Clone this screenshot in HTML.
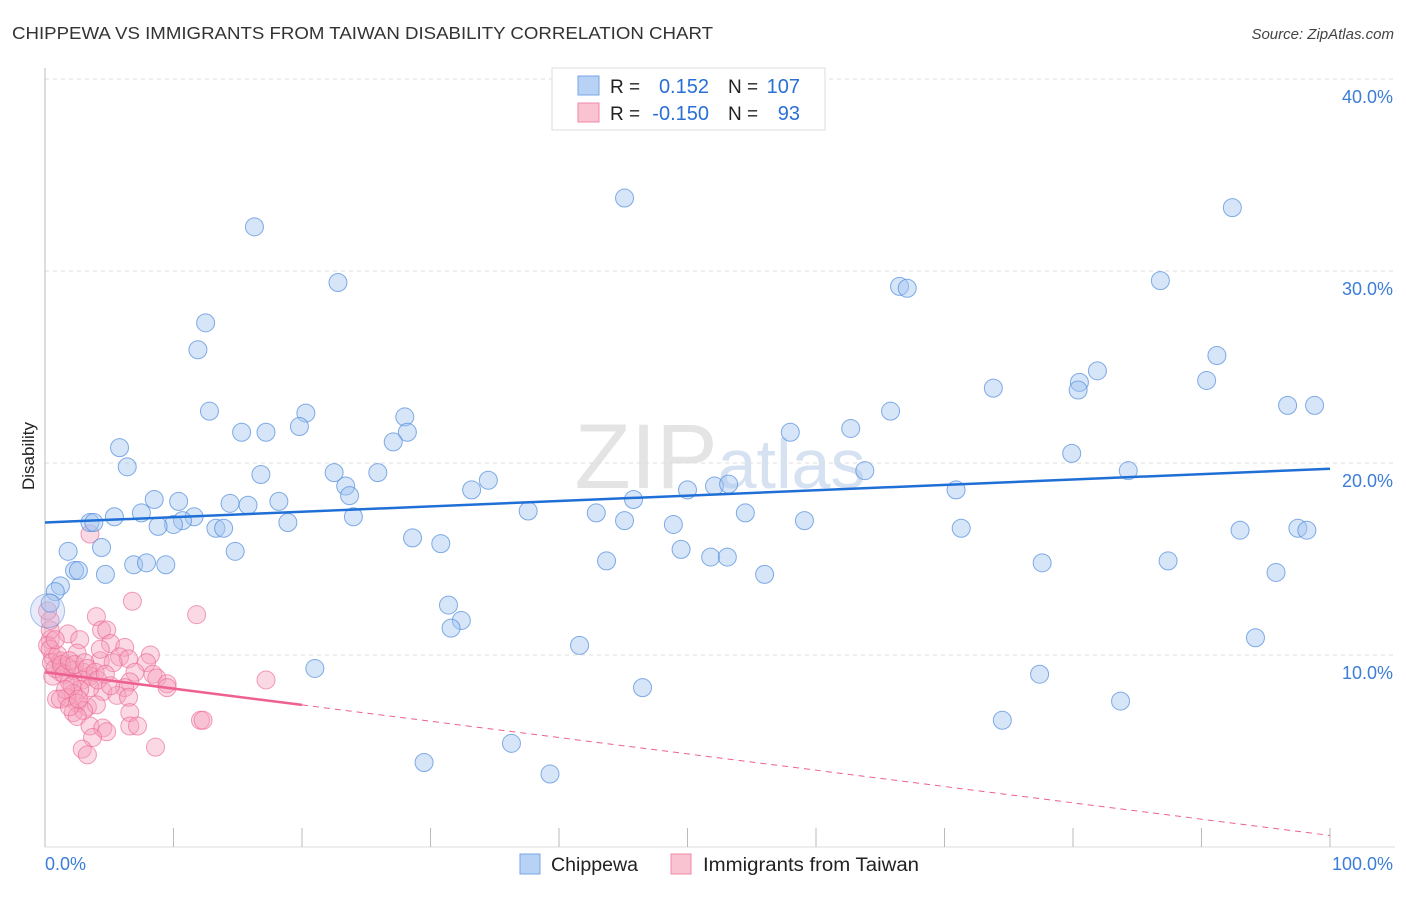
<!DOCTYPE html>
<html><head><meta charset="utf-8"><style>
body{margin:0;background:#fff;font-family:"Liberation Sans",sans-serif;}
svg text{font-family:"Liberation Sans",sans-serif;}
</style></head><body>
<svg id="chart" width="1406" height="892" viewBox="0 0 1406 892" xmlns="http://www.w3.org/2000/svg">
<text x="12" y="39" font-size="17.5" fill="#333" textLength="701" lengthAdjust="spacingAndGlyphs">CHIPPEWA VS IMMIGRANTS FROM TAIWAN DISABILITY CORRELATION CHART</text>
<text x="1394" y="39" font-size="15" fill="#444" font-style="italic" text-anchor="end">Source: ZipAtlas.com</text>
<text x="720" y="488" font-size="92" fill="#e4e4e4" text-anchor="middle" font-family="Liberation Serif">ZIP<tspan fill="#d6e2f2" font-family="Liberation Sans" font-size="70">atlas</tspan></text>
<text transform="translate(34,456) rotate(-90)" font-size="17" fill="#222" text-anchor="middle">Disability</text>
<g id="grid"></g>
<g id="axes"></g>
<g id="pink"></g>
<g id="blue"></g>
<g id="lines"></g>
<g>
<rect x="552" y="68" width="273" height="62" fill="#fff" stroke="#ddd"/>
<rect x="578" y="76" width="21" height="19" fill="#b8d2f5" stroke="#7aa6e6"/>
<rect x="578" y="103" width="21" height="19" fill="#f9c3d2" stroke="#f08aaa"/>
<text x="610" y="93" font-size="19" fill="#222">R =</text>
<text x="709" y="93" font-size="20" fill="#2a6fd6" text-anchor="end">0.152</text>
<text x="728" y="93" font-size="19" fill="#222">N =</text>
<text x="800" y="93" font-size="20" fill="#2a6fd6" text-anchor="end">107</text>
<text x="610" y="120" font-size="19" fill="#222">R =</text>
<text x="709" y="120" font-size="20" fill="#2a6fd6" text-anchor="end">-0.150</text>
<text x="728" y="120" font-size="19" fill="#222">N =</text>
<text x="800" y="120" font-size="20" fill="#2a6fd6" text-anchor="end">93</text>
</g>
<g>
<rect x="520" y="854" width="20" height="20" fill="#b8d2f5" stroke="#7aa6e6"/>
<text x="551" y="871" font-size="19" fill="#222" textLength="87" lengthAdjust="spacingAndGlyphs">Chippewa</text>
<rect x="671" y="854" width="20" height="20" fill="#f9c3d2" stroke="#f08aaa"/>
<text x="703" y="871" font-size="19" fill="#222" textLength="216" lengthAdjust="spacingAndGlyphs">Immigrants from Taiwan</text>
</g>
</svg>
<script>
const yTicks=[10,20,30,40];
const yTickLabels=["10.0%","20.0%","30.0%","40.0%"];
const xTickVals=[0,10,20,30,40,50,60,70,80,90,100];
const xEndLabels=["0.0%","100.0%"];
const blueX=[45.1,16.3,92.4,22.8,66.5,67.1,86.8,12.5,11.9,91.2,81.9,80.5,80.4,90.4,73.8,12.8,20.3,65.8,28.0,96.7,98.8,15.3,17.2,19.8,28.2,27.1,58.0,62.7,5.8,6.4,79.9,84.3,63.8,16.8,22.5,25.9,23.4,23.7,33.2,34.5,8.5,10.4,14.4,15.8,18.2,50.0,52.1,53.2,70.9,45.8,7.5,5.4,11.6,10.7,10.0,3.5,3.8,8.8,13.3,13.9,18.9,24.0,37.6,42.9,45.1,54.5,59.1,71.3,93.0,97.5,98.2,48.9,28.6,30.8,1.8,4.4,14.8,49.5,51.8,53.1,43.7,77.6,87.4,6.9,7.9,9.4,2.3,2.6,4.7,56.0,95.8,1.2,0.8,0.4,31.4,32.4,31.6,41.6,94.2,21.0,77.4,46.5,83.7,74.5,36.3,29.5,39.3];
const blueY=[33.8,32.3,33.3,29.4,29.2,29.1,29.5,27.3,25.9,25.6,24.8,24.2,23.8,24.3,23.9,22.7,22.6,22.7,22.4,23.0,23.0,21.6,21.6,21.9,21.6,21.1,21.6,21.8,20.8,19.8,20.5,19.6,19.6,19.4,19.5,19.5,18.8,18.3,18.6,19.1,18.1,18.0,17.9,17.8,18.0,18.6,18.8,18.9,18.6,18.1,17.4,17.2,17.2,17.0,16.8,16.9,16.9,16.7,16.6,16.6,16.9,17.2,17.5,17.4,17.0,17.4,17.0,16.6,16.5,16.6,16.5,16.8,16.1,15.8,15.4,15.6,15.4,15.5,15.1,15.1,14.9,14.8,14.9,14.7,14.8,14.7,14.4,14.4,14.2,14.2,14.3,13.6,13.3,12.7,12.6,11.8,11.4,10.5,10.9,9.3,9.0,8.3,7.6,6.6,5.4,4.4,3.8];
const pinkX=[3.5,6.8,11.8,4.0,4.4,4.8,1.8,2.7,5.1,6.2,8.2,2.5,5.8,6.5,4.3,7.9,5.3,0.6,0.4,0.4,0.4,1.2,1.7,2.2,3.0,3.5,2.9,1.9,1.2,0.6,7.0,8.4,8.7,9.5,9.5,6.6,6.2,4.5,5.6,6.5,3.5,2.7,2.2,0.9,1.7,2.5,3.3,4.0,2.2,3.0,6.6,2.5,3.5,4.5,4.8,6.6,7.2,3.7,2.9,3.3,8.6,12.1,12.3,17.2,0.2,0.2,0.4,0.5,0.8,1.0,1.3,1.5,1.9,2.3,2.1,1.6,3.1,3.3,3.9,4.1,4.7,5.1,1.2,1.9,2.6,4.3,0.8];
const pinkY=[16.3,12.8,12.1,12.0,11.3,11.3,11.1,10.8,10.6,10.4,10.0,10.1,9.9,9.8,9.7,9.6,9.6,9.9,10.8,11.3,11.8,9.7,9.4,9.2,9.1,8.9,8.7,8.6,9.1,8.9,9.1,9.0,8.8,8.5,8.3,8.6,8.3,8.1,7.9,7.8,8.3,8.2,8.0,7.7,7.8,7.5,7.3,7.4,7.0,7.1,7.0,6.8,6.3,6.2,6.0,6.3,6.3,5.7,5.1,4.8,5.2,6.6,6.6,8.7,12.3,10.5,10.3,9.6,9.3,10.0,9.5,9.0,9.7,9.5,8.4,8.2,9.6,9.3,9.1,8.7,9.0,8.4,7.7,7.3,7.7,10.3,10.8];
const blueTrend=[16.9,19.7];
const pinkTrend=[9.1,0.6];
const pinkSolidEnd=20;

const NS="http://www.w3.org/2000/svg";
const xs=v=>45+v*12.85;
const ys=v=>847-v*19.2;
function mk(tag,attrs,parent){const e=document.createElementNS(NS,tag);for(const k in attrs)e.setAttribute(k,attrs[k]);document.getElementById(parent).appendChild(e);return e;}

mk('line',{x1:45,x2:1395,y1:79,y2:79,stroke:'#ddd','stroke-dasharray':'4,4'},'grid');
yTicks.forEach((t,i)=>{
 const g=mk('line',{x1:45,x2:1395,y1:ys(t),y2:ys(t),stroke:'#ddd','stroke-dasharray':'4,4'},'grid');
 
 
 const tx=mk('text',{x:1393,y:ys(t)+24,'font-size':18,fill:'#3b7dd8','text-anchor':'end'},'grid');
 tx.textContent=yTickLabels[i];
 
 
});
const ax=mk('line',{x1:45,x2:45,y1:68,y2:847,stroke:'#bbb'},'axes');


const bx=mk('line',{x1:45,x2:1395,y1:847,y2:847,stroke:'#ddd'},'axes');


xTickVals.forEach(v=>{
 const t=mk('line',{x1:xs(v),x2:xs(v),y1:828,y2:847,stroke:'#bbb'},'axes');
 
 
});
const l0=mk('text',{x:45,y:870,'font-size':18,fill:'#3b7dd8'},'axes');l0.textContent=xEndLabels[0];


const l1=mk('text',{x:1393,y:870,'font-size':18,fill:'#3b7dd8','text-anchor':'end'},'axes');l1.textContent=xEndLabels[1];



pinkX.forEach((x,i)=>{
 const c=mk('circle',{cx:xs(x),cy:ys(pinkY[i]),r:9,fill:'rgba(245,160,188,0.4)',stroke:'rgba(236,105,148,0.65)','stroke-width':1},'pink');
 
 
});
blueX.forEach((x,i)=>{
 const c=mk('circle',{cx:xs(x),cy:ys(blueY[i]),r:9,fill:'rgba(165,198,240,0.45)',stroke:'rgba(80,140,220,0.7)','stroke-width':1},'blue');
 
 
});
const big=mk('circle',{cx:xs(0.2),cy:ys(12.3),r:17,fill:'rgba(175,190,235,0.3)',stroke:'rgba(80,140,220,0.5)'},'blue');



const bl=mk('line',{x1:xs(0),y1:ys(blueTrend[0]),x2:xs(100),y2:ys(blueTrend[1]),stroke:'#1f6fd6','stroke-width':2.5},'lines');


const pAt=v=>pinkTrend[0]+(pinkTrend[1]-pinkTrend[0])*v/100;
const pl=mk('line',{x1:xs(0),y1:ys(pinkTrend[0]),x2:xs(pinkSolidEnd),y2:ys(pAt(pinkSolidEnd)),stroke:'#ee6090','stroke-width':2.5},'lines');


const pd=mk('line',{x1:xs(pinkSolidEnd),y1:ys(pAt(pinkSolidEnd)),x2:xs(100),y2:ys(pinkTrend[1]),stroke:'#ee6090','stroke-width':1,'stroke-dasharray':'6,5'},'lines');


</script>
</body></html>
